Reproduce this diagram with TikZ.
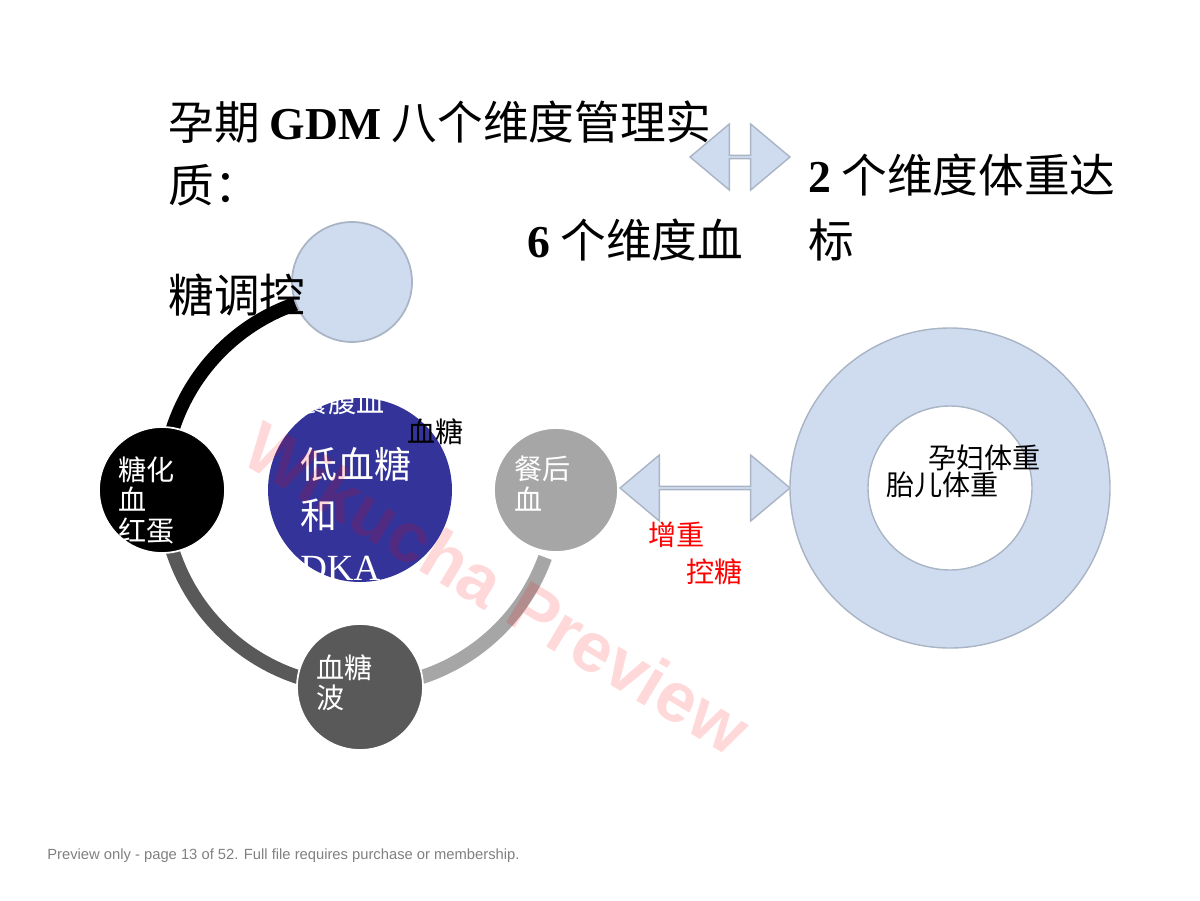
\documentclass[tikz,border=0pt]{standalone}
\usepackage{fontspec}
\setmainfont{Liberation Serif}
\setsansfont{Liberation Sans}
\newfontfamily\cjk{Noto Sans CJK SC}
\usetikzlibrary{shapes.arrows,positioning}

\definecolor{paleblue}{HTML}{CFDCF0}
\definecolor{rimgrey}{HTML}{A9B4C4}
\definecolor{indigo}{HTML}{333399}
\definecolor{darkgrey}{HTML}{595959}
\definecolor{midgrey}{HTML}{A6A6A6}

\tikzset{
  title/.style={anchor=west, font=\fontsize{26}{30}\selectfont\cjk, inner sep=0pt},
  step/.style={circle, draw=white, line width=1pt, minimum size=#1, inner sep=0pt},
  lbl/.style={anchor=north west, align=left, text=white, font=\fontsize{16}{17.5}\selectfont\cjk, inner sep=0pt},
  note/.style={anchor=west, inner sep=0pt, font=\fontsize{16}{18}\selectfont\cjk},
  link/.style={double arrow, draw=rimgrey, fill=paleblue, line width=.8pt, inner sep=0pt,
               double arrow head extend=0.28cm, double arrow tip angle=80},
  ring/.style={line width=8pt}
}

\begin{document}
\begin{tikzpicture}[x=0.02cm, y=-0.02cm]
  \useasboundingbox (0,0) rectangle (1200,900);

  % Cycle
  \coordinate (hub) at (360,490);
  \draw[ring, darkgrey] (163,490) arc (180:90:197);
  \draw[ring, midgrey] (360,687) arc (90:20:197);
  \draw[ring, black] (163,490) arc (180:254:197);
  \node[step=2.4cm, fill=paleblue, draw=rimgrey] (top) at (352,282) {};
  \begin{scope}
    \clip (250,396) rectangle (480,600);
    \node[step=3.68cm, fill=indigo, draw=none] (mid) at (360,490) {};
    \node[lbl] (midtop) at (300,388) {餐腹血};
  \end{scope}
  \node[step=2.52cm, fill=black] (hba) at (162,490) {};
  \node[step=2.48cm, fill=midgrey] (post) at (556,490) {};
  \node[step=2.52cm, fill=darkgrey] (wave) at (360,687) {};

  % Labels
  \node[lbl] at (118,456) {糖化\\血\\红蛋};
  \node[lbl] at (514,456) {餐后\\血};
  \node[lbl] at (316,654) {血糖\\波};
  \node[lbl, font=\fontsize{21}{29}\selectfont\cjk] at (300,447)
       {低血糖\\和\\{\rmfamily DKA}};
  \node[note] (bg) at (407,432) {血糖};

  % Arrows
  \node[link, minimum height=3.4cm, minimum width=1.32cm] (lk) at (705,488) {};
  \node[link, minimum height=2cm, minimum width=1.32cm] (lk2) at (740,157) {};
  \node[note, text=red] (gain) at (648,535) {增重};
  \node[note, text=red] (ctl) at (686,572) {控糖};

  % Weight ring
  \fill[paleblue, draw=rimgrey, line width=.8pt, even odd rule]
     (950,488) circle (160) (950,488) circle (82);
  \node[note] (mom) at (928,458) {孕妇体重};
  \node[note] (baby) at (886,485) {胎儿体重};

  % Titles
  \node[title] (t1) at (168,122) {孕期 {\rmfamily\bfseries GDM} 八个维度管理实};
  \node[title] (t2) at (168,185) {质：};
  \node[title] (t3) at (527,240) {{\rmfamily\bfseries 6} 个维度血};
  \node[title] (t4) at (168,295) {糖调控};
  \node[title] (t5) at (808,175) {{\rmfamily\bfseries 2} 个维度体重达};
  \node[title] (t6) at (808,240) {标};

  % Watermark
  \node[rotate=-31, text=red, opacity=.15, font=\fontsize{40}{44}\selectfont\sffamily\bfseries] (wm) at (497,588) {Wikucha Preview};

  % Footer
  \node[anchor=west, inner sep=0pt, text=gray, font=\fontsize{8.4}{10}\selectfont\sffamily] (foot) at (47,856)
       {Preview only - page 13 of 52. Full file requires purchase or membership.};
\end{tikzpicture}
\end{document}
